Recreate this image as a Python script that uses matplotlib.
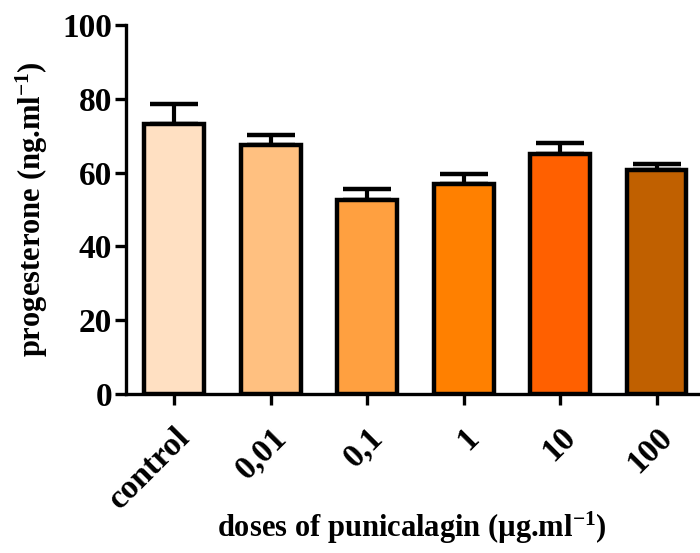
import matplotlib
matplotlib.use('Agg')
import matplotlib.pyplot as plt
import numpy as np

# data
doses = ['control', '0,01', '0,1', '1', '10', '100']
progesterone = [73.2, 67.5, 52.7, 57.0, 65.0, 60.7]
sem = [5.3, 2.7, 2.9, 2.5, 2.9, 1.7]
colors = ['#FFE0C2', '#FFC080', '#FFA040', '#FF8000', '#FF6000', '#C06000']

plt.rcParams['font.family'] = 'Liberation Serif'
plt.rcParams['font.weight'] = 'bold'
plt.rcParams['mathtext.fontset'] = 'custom'
plt.rcParams['mathtext.rm'] = 'Liberation Serif:bold'
plt.rcParams['mathtext.it'] = 'Liberation Serif:bold'
plt.rcParams['mathtext.bf'] = 'Liberation Serif:bold'

fig = plt.figure(figsize=(7, 5.53), dpi=100)
ax = fig.add_axes([0.18, 0.2875, 0.82, 0.6673])

x = np.arange(len(doses))
ax.errorbar(x, progesterone, yerr=[np.zeros(len(sem)), sem], fmt='none',
            ecolor='black', elinewidth=3, capsize=17, capthick=3.2, zorder=1)
ax.bar(x, progesterone, width=0.62, color=colors, edgecolor='black',
       linewidth=3.2, zorder=2)

ax.set_ylim(0, 100)
ax.set_xlim(-0.5, 5.45)
ax.set_yticks([0, 20, 40, 60, 80, 100])
ax.set_xticks(x)
ax.set_xticklabels(doses, rotation=45, ha='right', rotation_mode='anchor')

for s in ['top', 'right']:
    ax.spines[s].set_visible(False)
for s in ['left', 'bottom']:
    ax.spines[s].set_linewidth(2.4)

ax.tick_params(axis='both', width=2.4, length=8, labelsize=24, direction='out')
ax.tick_params(axis='x', pad=12)
ax.tick_params(axis='y', pad=2)

ax.set_ylabel('progesterone (ng.ml$^{-1}$)', fontsize=22, fontweight='bold', labelpad=9)
fig.text(0.588, 0.045, 'doses of punicalagin (µg.ml$^{-1}$)', fontsize=22,
         fontweight='bold', ha='center', va='center')

fig.savefig('out.png', dpi=100)
